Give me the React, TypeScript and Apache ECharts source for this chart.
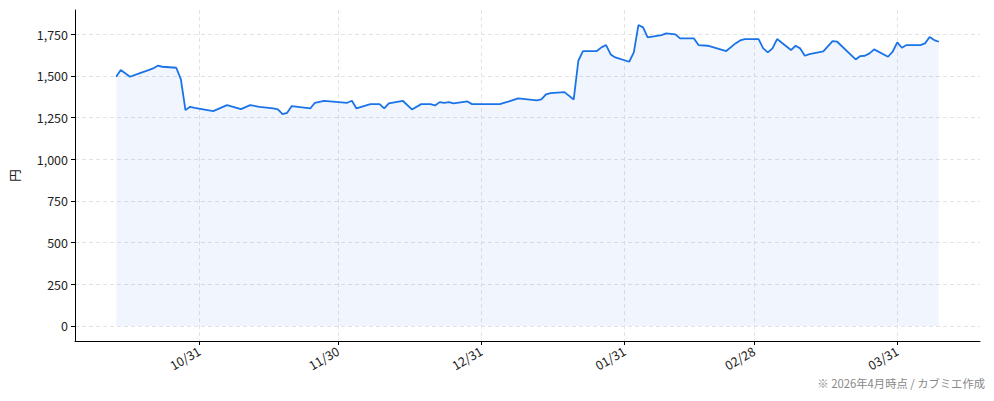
import { useEffect, useRef } from "react";
import * as echarts from "echarts";

// 終値（チャートから読み取り）
const DATES = [
  "2025-10-13", "2025-10-14", "2025-10-16", "2025-10-18", "2025-10-20", "2025-10-21",
  "2025-10-22", "2025-10-23", "2025-10-26", "2025-10-27", "2025-10-28", "2025-10-29",
  "2025-10-30", "2025-11-03", "2025-11-06", "2025-11-09", "2025-11-11", "2025-11-13",
  "2025-11-16", "2025-11-17", "2025-11-18", "2025-11-19", "2025-11-20", "2025-11-24",
  "2025-11-25", "2025-11-27", "2025-12-02", "2025-12-03", "2025-12-04", "2025-12-07",
  "2025-12-09", "2025-12-10", "2025-12-11", "2025-12-14", "2025-12-16", "2025-12-18",
  "2025-12-20", "2025-12-21", "2025-12-22", "2025-12-23", "2025-12-24", "2025-12-25",
  "2025-12-28", "2025-12-29", "2026-01-04", "2026-01-06", "2026-01-08", "2026-01-12",
  "2026-01-13", "2026-01-14", "2026-01-15", "2026-01-18", "2026-01-20", "2026-01-21",
  "2026-01-22", "2026-01-25", "2026-01-26", "2026-01-27", "2026-01-28", "2026-01-29",
  "2026-02-01", "2026-02-02", "2026-02-03", "2026-02-04", "2026-02-05", "2026-02-08",
  "2026-02-09", "2026-02-11", "2026-02-12", "2026-02-15", "2026-02-16", "2026-02-18",
  "2026-02-22", "2026-02-24", "2026-02-25", "2026-02-26", "2026-03-01", "2026-03-02",
  "2026-03-03", "2026-03-04", "2026-03-05", "2026-03-08", "2026-03-09", "2026-03-10",
  "2026-03-11", "2026-03-12", "2026-03-15", "2026-03-17", "2026-03-18", "2026-03-22",
  "2026-03-23", "2026-03-24", "2026-03-25", "2026-03-26", "2026-03-29", "2026-03-30",
  "2026-03-31", "2026-04-01", "2026-04-02", "2026-04-05", "2026-04-06", "2026-04-07",
  "2026-04-08", "2026-04-09",
];

const PRICES = [
  1494, 1534, 1494, 1514, 1534, 1544,
  1560, 1554, 1548, 1480, 1294, 1314,
  1308, 1288, 1324, 1300, 1324, 1314,
  1304, 1298, 1270, 1278, 1318, 1304,
  1338, 1350, 1338, 1350, 1304, 1330,
  1330, 1304, 1334, 1350, 1298, 1330,
  1330, 1322, 1342, 1338, 1342, 1334,
  1346, 1330, 1330, 1346, 1364, 1352,
  1358, 1388, 1396, 1402, 1358, 1590,
  1648, 1648, 1670, 1684, 1628, 1610,
  1584, 1640, 1804, 1790, 1730, 1744,
  1754, 1748, 1724, 1724, 1684, 1680,
  1648, 1694, 1712, 1720, 1720, 1664,
  1640, 1664, 1720, 1654, 1680, 1664,
  1620, 1630, 1646, 1708, 1704, 1598,
  1618, 1620, 1634, 1658, 1614, 1644,
  1700, 1668, 1684, 1684, 1694, 1732,
  1714, 1704,
];

const X_TICKS = ["2025-10-31", "2025-11-30", "2025-12-31", "2026-01-31", "2026-02-28", "2026-03-31"];
const Y_TICKS = [0, 250, 500, 750, 1000, 1250, 1500, 1750];

const NOTE = "※ 2026年4月時点 / カブミエ作成";
const FONT = "'Noto Sans CJK JP', 'Noto Sans', sans-serif";

function toTs(s: string) {
  const [y, m, d] = s.split("-").map(Number);
  return new Date(y, m - 1, d).getTime();
}

function mmdd(v: number) {
  const d = new Date(v);
  const p = (n: number) => String(n).padStart(2, "0");
  return `${p(d.getMonth() + 1)}/${p(d.getDate())}`;
}

export default function App() {
  const ref = useRef<HTMLDivElement>(null);

  useEffect(() => {
    document.body.style.margin = "0";
    if (!ref.current) return;
    const chart = echarts.init(ref.current, null, { renderer: "svg" });

    const xs = DATES.map(toTs);
    const xSpan = xs[xs.length - 1] - xs[0];
    const yTop = Math.max(...PRICES);
    const xTickTs = X_TICKS.map(toTs);

    chart.setOption({
      animation: false,
      textStyle: { fontFamily: FONT },
      grid: { left: 75, right: 14, top: 10, bottom: 60 },
      xAxis: {
        type: "value",
        min: xs[0] - xSpan * 0.05,
        max: xs[xs.length - 1] + xSpan * 0.05,
        axisLine: { show: true, onZero: false, lineStyle: { color: "#000", width: 1 } },
        axisTick: { show: true, length: 4, lineStyle: { color: "#000" }, customValues: xTickTs },
        axisLabel: {
          customValues: xTickTs,
          formatter: (v: number) => mmdd(v),
          rotate: 30,
          color: "#222",
          fontSize: 12.5,
          margin: 9,
          fontFamily: FONT,
        },
        splitLine: { show: true, lineStyle: { color: "#e3e3e3", type: [4, 3], width: 1 } },
      },
      yAxis: {
        type: "value",
        min: -yTop * 0.05,
        max: yTop * 1.05,
        name: "円",
        nameLocation: "middle",
        nameRotate: 90,
        nameGap: 54,
        nameTextStyle: { color: "#222", fontSize: 12.5, fontFamily: FONT },
        axisLine: { show: true, onZero: false, lineStyle: { color: "#000", width: 1 } },
        axisTick: { show: true, length: 4, lineStyle: { color: "#000" }, customValues: Y_TICKS },
        axisLabel: {
          customValues: Y_TICKS,
          formatter: (v: number) => v.toLocaleString("en-US"),
          color: "#222",
          fontSize: 12.5,
          margin: 7,
          fontFamily: FONT,
        },
        splitLine: { show: true, lineStyle: { color: "#e3e3e3", type: [4, 3], width: 1 } },
      },
      series: [
        {
          type: "line",
          data: xs.map((t, i) => [t, PRICES[i]]),
          showSymbol: false,
          lineStyle: { color: "#1a73e8", width: 1.8 },
          itemStyle: { color: "#1a73e8" },
          areaStyle: { color: "rgba(26,115,232,0.09)", origin: "auto" },
        },
      ],
      graphic: [
        {
          type: "text",
          right: 9,
          top: 377,
          style: { text: NOTE, fill: "#888", fontSize: 11.3, fontFamily: FONT },
        },
      ],
    });

    return () => chart.dispose();
  }, []);

  return <div ref={ref} style={{ width: 994, height: 401 }} />;
}
